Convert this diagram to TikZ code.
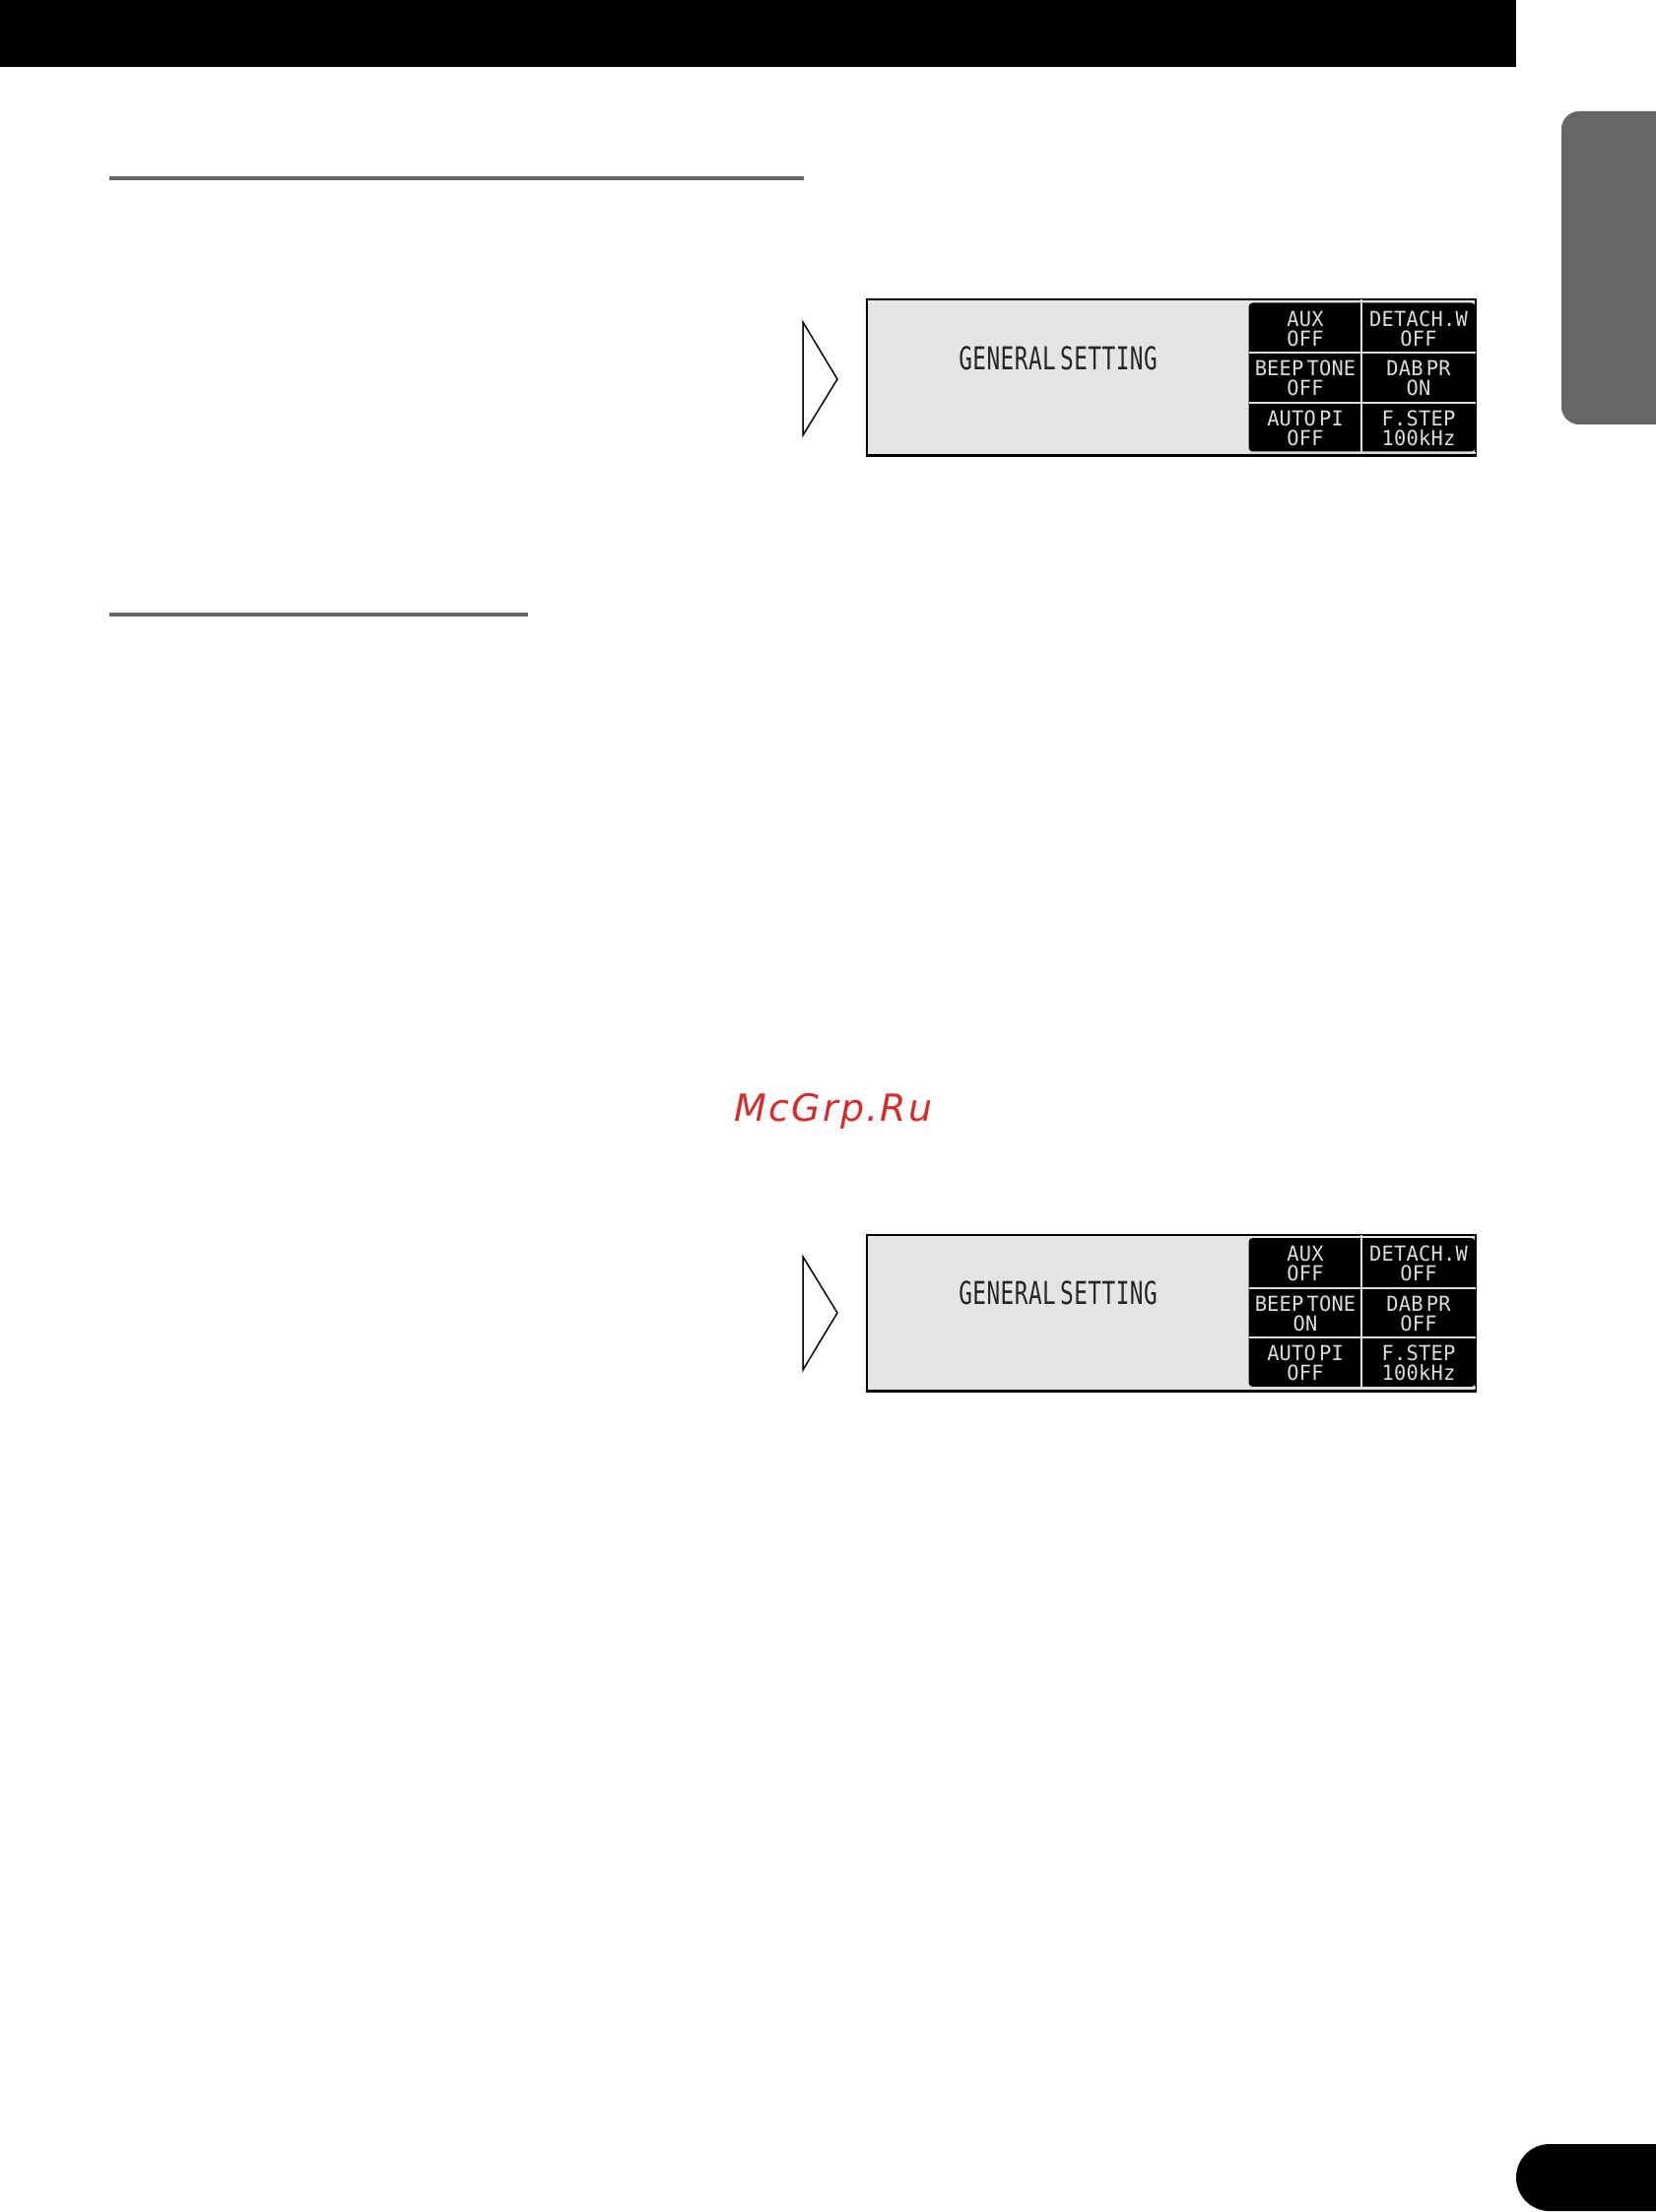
\documentclass[tikz,border=0pt]{standalone}
\usepackage{fontspec}
\usepackage{tikz}
\newfontfamily\lcdfont[FakeStretch=0.97,WordSpace=0.25,LetterSpace=1]{DejaVu Sans Mono}
\newfontfamily\headfont[FakeStretch=0.71,WordSpace=0.3,LetterSpace=1.5]{DejaVu Sans Mono}
\newfontfamily\markfont[LetterSpace=6]{DejaVu Sans}
\definecolor{rulegray}{HTML}{666666}
\definecolor{lcdgray}{HTML}{E4E4E4}
\definecolor{lcdtext}{HTML}{DCDCDC}
\definecolor{markred}{HTML}{D62B2B}
\tikzstyle{sectionrule} = [line width=2pt, rulegray]
\tikzstyle{panel} = [rectangle, draw=black, line width=1pt, fill=lcdgray, minimum width=309pt, minimum height=79pt, inner sep=0pt]
\tikzstyle{block} = [rectangle, rounded corners=2pt, fill=black, minimum width=115pt, minimum height=75.5pt, inner sep=0pt]
\tikzstyle{divider} = [line width=1pt, lcdtext]
\tikzstyle{cell} = [align=center, text=lcdtext, inner sep=0pt, font=\lcdfont\fontsize{10.5}{10}\selectfont]
\tikzstyle{title} = [text=black!85, inner sep=0pt, font=\headfont\fontsize{16}{16}\selectfont]
\tikzstyle{pointer} = [draw=black, line width=0.75pt, fill=white, line join=miter]
\begin{document}
\begin{tikzpicture}[x=0.5pt,y=-0.5pt]
            \useasboundingbox (0,0) rectangle (1680,2246);
            % page furniture
            \fill [black] (0,0) rectangle (1539,68);
            \fill [rulegray, rounded corners=9pt] (1585,113) rectangle (1720,431);
            \fill [black, rounded corners=17pt] (1539,2177) rectangle (1740,2245);
            \draw [sectionrule] (111,181) -- (816,181);
            \draw [sectionrule] (111,624) -- (536,624);

            % first display
            \draw [pointer] (815,327) -- (850,385) -- (815,442) -- cycle;
            \node [panel] at (1188.5,383) (panel1) {};
            \draw [line width=1.5pt] (panel1.south west) -- (panel1.south east);
            \node [block] at (1382.5,383) (block1) {};
            \draw [divider] (1381.5,304) -- (1381.5,460);
            \draw [divider] (1268,358.5) -- (1498,358.5);
            \draw [divider] (1268,409) -- (1498,409);
            \draw [divider] (1268,460) -- (1498,460);
            \node [title] at (1074,364) (title1) {GENERAL SETTING};
            \node [cell] at (1325,334) (aux1) {AUX\\OFF};
            \node [cell] at (1440,334) (detach1) {DETACH.W\\OFF};
            \node [cell] at (1325,384) (beep1) {BEEP TONE\\OFF};
            \node [cell] at (1440,384) (dab1) {DAB PR\\ON};
            \node [cell] at (1325,435) (auto1) {AUTO PI\\OFF};
            \node [cell] at (1440,435) (step1) {F.STEP\\100kHz};

            % watermark
            \node [text=markred, inner sep=0pt, font=\markfont\itshape\fontsize{19}{19}\selectfont] at (846,1128) (mark) {McGrp.Ru};

            % second display
            \draw [pointer] (815,1276) -- (850,1333) -- (815,1391) -- cycle;
            \node [panel] at (1188.5,1332.5) (panel2) {};
            \draw [line width=1.5pt] (panel2.south west) -- (panel2.south east);
            \node [block] at (1382.5,1332.5) (block2) {};
            \draw [divider] (1381.5,1254) -- (1381.5,1409);
            \draw [divider] (1268,1308) -- (1498,1308);
            \draw [divider] (1268,1358) -- (1498,1358);
            \draw [divider] (1268,1409) -- (1498,1409);
            \node [title] at (1074,1313) (title2) {GENERAL SETTING};
            \node [cell] at (1325,1283) (aux2) {AUX\\OFF};
            \node [cell] at (1440,1283) (detach2) {DETACH.W\\OFF};
            \node [cell] at (1325,1334) (beep2) {BEEP TONE\\ON};
            \node [cell] at (1440,1334) (dab2) {DAB PR\\OFF};
            \node [cell] at (1325,1384) (auto2) {AUTO PI\\OFF};
            \node [cell] at (1440,1384) (step2) {F.STEP\\100kHz};
            \end{tikzpicture}
\end{document}
